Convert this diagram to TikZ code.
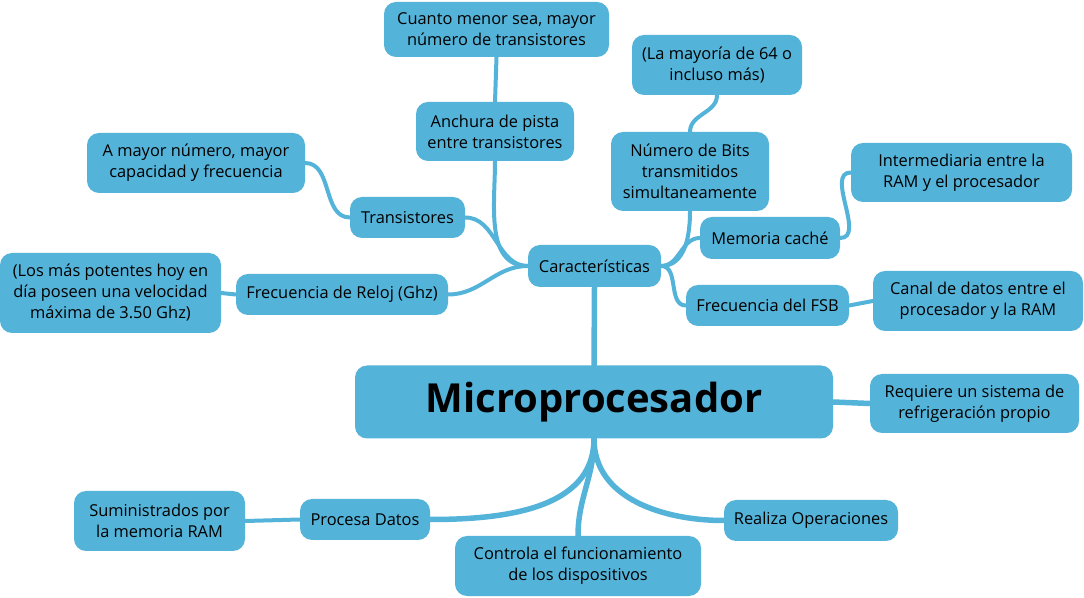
\documentclass[tikz,border=0pt]{standalone}
\usepackage{fontspec}
\setmainfont{Open Sans}
\usetikzlibrary{backgrounds}
\definecolor{boxblue}{HTML}{54B3D9}
\tikzset{
  topic/.style={fill=boxblue, rounded corners=12pt, align=center, inner sep=0pt,
    font=\fontsize{16.4}{21}\selectfont, text=black},
  link/.style={draw=boxblue, line width=4pt, line cap=round},
  mainlink/.style={draw=boxblue, line width=5.5pt, line cap=round}
}
\begin{document}
\begin{tikzpicture}[x=1pt,y=1pt]
\useasboundingbox (0,0) rectangle (1084,597);
\node[topic, minimum width=478pt, minimum height=73pt, font=\fontsize{40}{44}\selectfont\bfseries] (micro) at (594,195) {Microprocesador};
\node[topic, minimum width=133pt, minimum height=42pt] (car) at (594.5,331) {Características};
\node[topic, minimum width=225pt, minimum height=55pt] (cuanto) at (496.5,567.5) {Cuanto menor sea, mayor\\número de transistores};
\node[topic, minimum width=158pt, minimum height=59pt] (anchura) at (495,465.5) {Anchura de pista\\entre transistores};
\node[topic, minimum width=170pt, minimum height=60pt] (mayoria) at (717,532) {(La mayoría de 64 o\\incluso más)};
\node[topic, minimum width=158pt, minimum height=79pt] (bits) at (690,425.5) {Número de Bits\\transmitidos\\simultaneamente};
\node[topic, minimum width=218pt, minimum height=60pt] (amayor) at (196,434) {A mayor número, mayor\\capacidad y frecuencia};
\node[topic, minimum width=115pt, minimum height=41pt] (trans) at (407.5,379.5) {Transistores};
\node[topic, minimum width=221pt, minimum height=59pt] (inter) at (961.5,424.5) {Intermediaria entre la\\RAM y el procesador};
\node[topic, minimum width=140pt, minimum height=42pt] (cache) at (770,359) {Memoria caché};
\node[topic, minimum width=221pt, minimum height=80pt] (lospot) at (110.5,304) {(Los más potentes hoy en\\día poseen una velocidad\\máxima de 3.50 Ghz)};
\node[topic, minimum width=212pt, minimum height=41pt] (reloj) at (342,302.5) {Frecuencia de Reloj (Ghz)};
\node[topic, minimum width=163pt, minimum height=41pt] (fsb) at (767.5,291.5) {Frecuencia del FSB};
\node[topic, minimum width=210pt, minimum height=60pt] (canal) at (978,296) {Canal de datos entre el\\procesador y la RAM};
\node[topic, minimum width=209pt, minimum height=59pt] (requiere) at (974.5,193.5) {Requiere un sistema de\\refrigeración propio};
\node[topic, minimum width=171pt, minimum height=60pt] (sumin) at (159.5,76) {Suministrados por\\la memoria RAM};
\node[topic, minimum width=130pt, minimum height=41pt] (procesa) at (365,77.5) {Procesa Datos};
\node[topic, minimum width=246pt, minimum height=60pt] (controla) at (578,31) {Controla el funcionamiento\\de los dispositivos};
\node[topic, minimum width=174pt, minimum height=41pt] (realiza) at (811,76.5) {Realiza Operaciones};
\begin{scope}[on background layer]
\draw[mainlink] (micro.north) -- (car.south);
\draw[link] (car.west) to[out=180,in=0] (trans.east);
\draw[link] (car.west) to[out=180,in=0] (reloj.east);
\draw[link] (car.west) to[out=180,in=-90] (anchura.south);
\draw[link] (car.east) to[out=0,in=-90] (bits.south);
\draw[link] (car.east) to[out=0,in=180] (cache.west);
\draw[link] (car.east) to[out=0,in=180] (fsb.west);
\draw[link] (anchura.north) -- (cuanto.south);
\draw[link] (bits.north) to[out=90,in=-90] (mayoria.south);
\draw[link] (trans.west) to[out=180,in=0] (amayor.east);
\draw[link] (reloj.west) -- (lospot.east);
\draw[link] (cache.east) to[out=0,in=180] (inter.west);
\draw[link] (fsb.east) -- (canal.west);
\draw[mainlink] (micro.east) -- (requiere.west);
\draw[mainlink] (micro.south) to[out=-90,in=0] (procesa.east);
\draw[mainlink] (micro.south) to[out=-90,in=90] (controla.north);
\draw[mainlink] (micro.south) to[out=-90,in=180] (realiza.west);
\draw[link] (procesa.west) -- (sumin.east);
\end{scope}
\end{tikzpicture}
\end{document}
